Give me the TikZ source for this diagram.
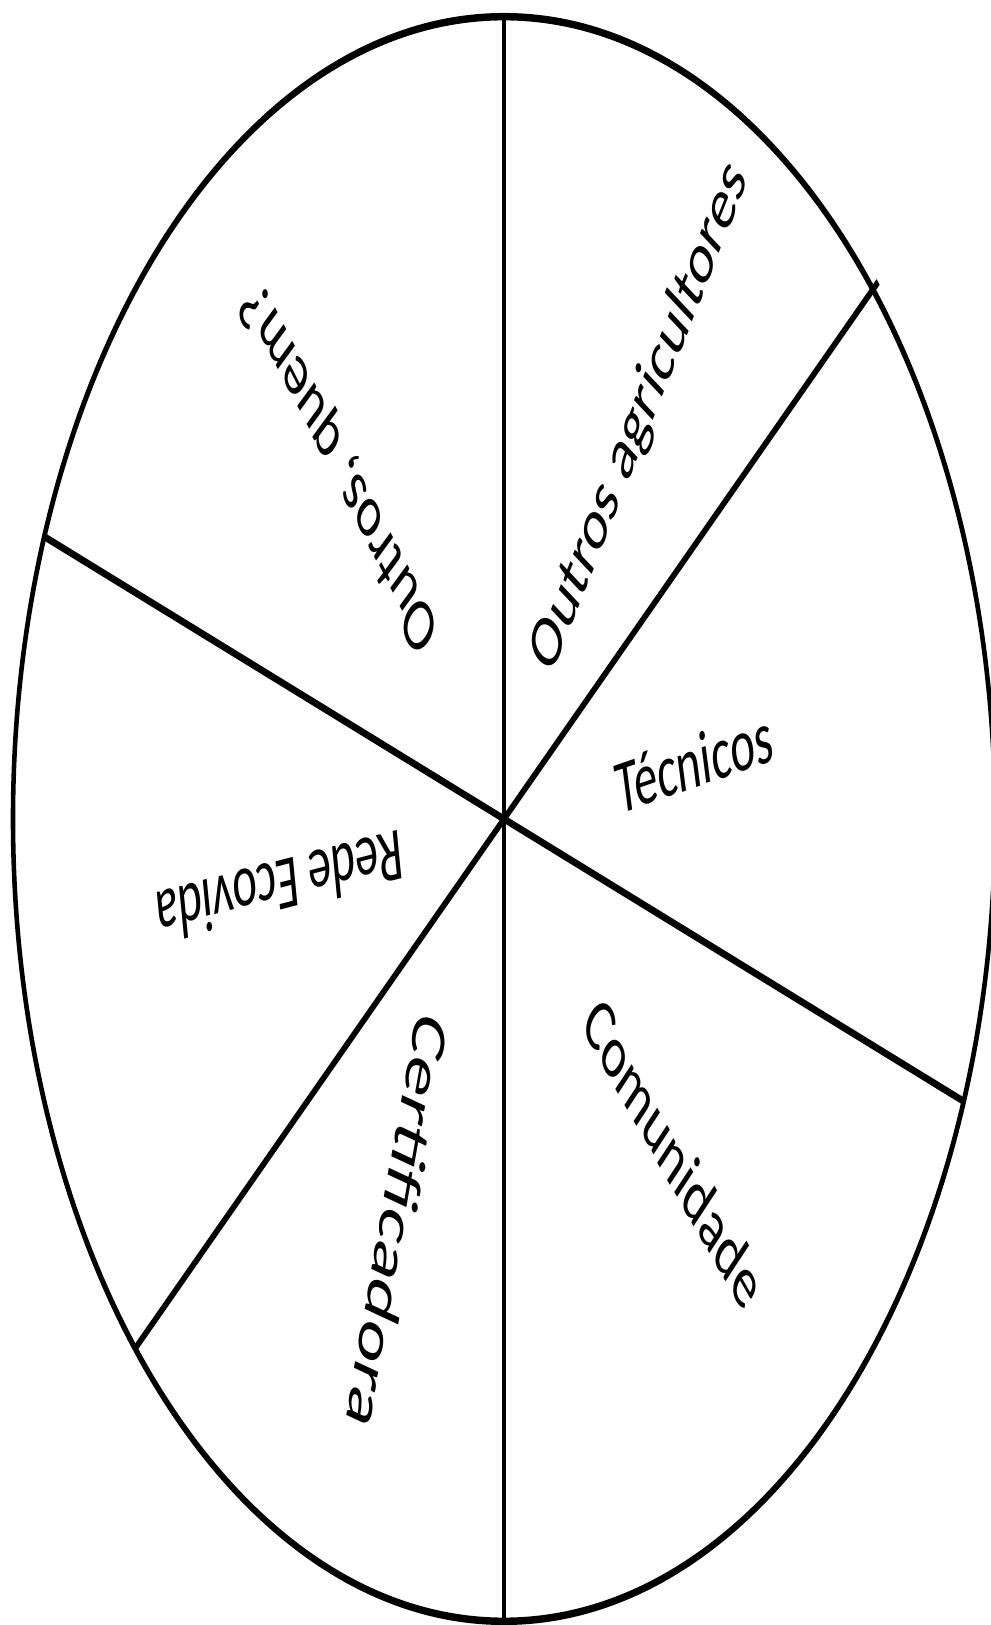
\documentclass[tikz,border=0pt]{standalone}
\usepackage{fontspec}
\setmainfont{Carlito}
\begin{document}
\begin{tikzpicture}[x=0.02cm,y=0.02cm]
  \useasboundingbox (-504,-806) rectangle (486,819);
  % the whole wheel is stretched upwards, strokes included
  \begin{scope}[transform canvas={yscale=1.634},line width=2.6pt,every node/.style={font=\fontsize{26.5}{30}\selectfont}]
    \coordinate (o) at (0,0);
    \draw (o) circle (491);
    \draw (90:491) -- (o) -- (270:491);
    \draw (41.3:498) -- (o) -- (221.3:491);
    \draw (159.4:491) -- (o) -- (-20.6:491);
    \node[rotate=57] (agricultores) at (136,246) {Outros agricultores};
    \node[rotate=130] (quem) at (-163,216) {Outros, quem?};
    \node[rotate=12] (tecnicos) at (190,35) {Técnicos};
    \node[rotate=189] (ecovida) at (-224,-41.6) {Rede Ecovida};
    \node[rotate=254,font=\fontsize{28.5}{32}\selectfont] (certif) at (-106,-247) {Certificadora};
    \node[rotate=-47] (comunidade) at (170,-204) {Comunidade};
  \end{scope}
\end{tikzpicture}
\end{document}
